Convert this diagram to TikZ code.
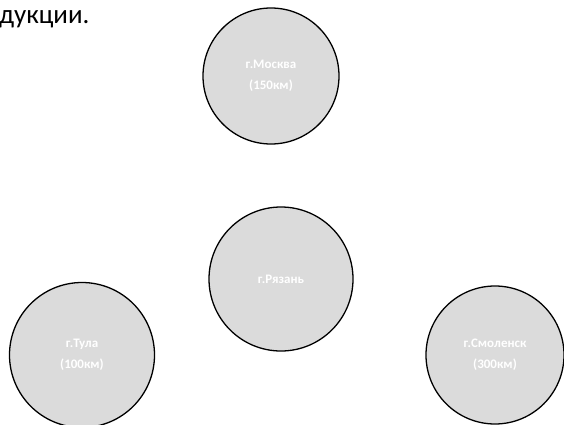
\documentclass[tikz,border=0pt]{standalone}
\usepackage{fontspec}
\setmainfont{Carlito}
\begin{document}
\begin{tikzpicture}[x=1pt,y=-1pt]
\tikzset{
  city/.style={circle,draw=black,line width=1.3pt,fill=black!14,inner sep=0pt,
    text=white,font=\bfseries\fontsize{13}{21}\selectfont,align=center},
}
\useasboundingbox (0,0) rectangle (564,425);
\node[anchor=base west,inner sep=0pt,font=\fontsize{27}{30}\selectfont] (title) at (-1,24) {дукции.};
\node[city,minimum size=136pt] (top) at (271,76) {г.Москва\\(150км)};
\node[city,minimum size=144pt] (mid) at (281,279) {г.Рязань};
\node[city,minimum size=145pt] (left) at (82,355) {г.Тула\\(100км)};
\node[city,minimum size=138pt] (right) at (495,355) {г.Смоленск\\(300км)};
\end{tikzpicture}
\end{document}
